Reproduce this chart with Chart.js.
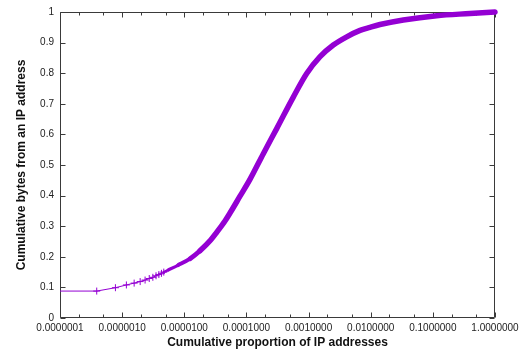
<!DOCTYPE html>
<html>
<head>
<meta charset="utf-8">
<script src="https://cdn.jsdelivr.net/npm/chart.js@4"></script>
<style>
  html, body { margin: 0; padding: 0; background: #fff; }
  #wrap { width: 520px; height: 353px; }
</style>
</head>
<body>
<div id="wrap"><canvas id="c" width="520" height="353"></canvas></div>
<script>
// Cumulative share of bytes vs cumulative share of IP addresses (sorted by traffic).
// First few addresses, drawn individually with markers.
const headX = [1e-7, 3.9e-7, 7.8e-7, 1.17e-6, 1.56e-6, 1.95e-6, 2.34e-6, 2.73e-6, 3.12e-6, 3.51e-6, 3.9e-6, 4.29e-6, 4.68e-6];
const headY = [0.088, 0.088, 0.099, 0.108, 0.114, 0.119, 0.124, 0.129, 0.133, 0.138, 0.142, 0.146, 0.150];

// Remainder of the distribution, where points are too dense to separate.
const tailX = [4.68e-6, 5.53e-6, 8.0e-6, 1.24e-5, 1.79e-5, 2.66e-5, 3.32e-5, 4.52e-5, 5.44e-5, 7.88e-5,
               1.14e-4, 1.87e-4, 3.07e-4, 5.68e-4, 9.33e-4, 1.53e-3, 2.50e-3, 4.11e-3, 6.73e-3, 9.75e-3,
               1.41e-2, 3.35e-2, 0.115, 0.396, 1.0];
const tailY = [0.150, 0.157, 0.173, 0.194, 0.220, 0.255, 0.280, 0.317, 0.343, 0.398,
               0.453, 0.537, 0.619, 0.722, 0.799, 0.854, 0.892, 0.919, 0.940, 0.950,
               0.959, 0.974, 0.988, 0.995, 1.0];

// Axis ticks
const xTickValues = [1e-7, 1e-6, 1e-5, 1e-4, 1e-3, 1e-2, 1e-1, 1];
const xTickLabels = ['0.0000001', '0.0000010', '0.0000100', '0.0001000', '0.0010000', '0.0100000', '0.1000000', '1.0000000'];
const xMinorFactors = [2, 5];
const yTickValues = [0, 0.1, 0.2, 0.3, 0.4, 0.5, 0.6, 0.7, 0.8, 0.9, 1];
const yTickLabels = ['0', '0.1', '0.2', '0.3', '0.4', '0.5', '0.6', '0.7', '0.8', '0.9', '1'];

const PURPLE = '#9400d3';
const FONT = "'Liberation Sans', Arial, Helvetica, sans-serif";

const toPoints = (xs, ys) => xs.map((x, i) => ({ x: x, y: ys[i] }));

// Frame with inward ticks on all four sides
const framePlugin = {
  id: 'frame',
  beforeDatasetsDraw(chart) {
    const { ctx, chartArea: a, scales: { x, y } } = chart;
    ctx.save();
    ctx.strokeStyle = '#3a3a3a';
    ctx.lineWidth = 1;
    const L = Math.round(a.left) + 0.5, R = Math.round(a.right) - 0.5;
    const T = Math.round(a.top) + 0.5, B = Math.round(a.bottom) - 0.5;
    ctx.beginPath();
    ctx.rect(L, T, R - L, B - T);
    const major = 5, minor = 3;
    const vtick = (px, len) => {
      const p = Math.round(px) + 0.5;
      ctx.moveTo(p, B); ctx.lineTo(p, B - len);
      ctx.moveTo(p, T); ctx.lineTo(p, T + len);
    };
    xTickValues.forEach((v, i) => {
      vtick(x.getPixelForValue(v), major);
      if (i < xTickValues.length - 1) {
        xMinorFactors.forEach(f => vtick(x.getPixelForValue(v * f), minor));
      }
    });
    yTickValues.forEach(v => {
      const p = Math.round(y.getPixelForValue(v)) + 0.5;
      ctx.moveTo(L, p); ctx.lineTo(L + major, p);
      ctx.moveTo(R, p); ctx.lineTo(R - major, p);
    });
    ctx.stroke();
    ctx.restore();
  }
};

// Stroke width of the dense part grows as the overlapping markers merge into a band
const bandWidth = ctx => {
  const px = ctx.p0.x;
  if (px < 166) return 2.5;
  if (px < 175) return 3.2;
  if (px < 183) return 4;
  if (px < 192) return 4.8;
  return 5.5;
};

new Chart(document.getElementById('c'), {
  type: 'line',
  data: {
    datasets: [
      {
        data: toPoints(headX, headY),
        borderColor: PURPLE,
        backgroundColor: PURPLE,
        borderWidth: 1,
        pointStyle: 'cross',
        pointRadius: ctx => (ctx.dataIndex === 0 ? 0 : 3.5),
        pointBorderWidth: 1,
        pointBorderColor: PURPLE,
        tension: 0,
        clip: false
      },
      {
        data: toPoints(tailX, tailY),
        borderColor: PURPLE,
        borderWidth: 5,
        pointRadius: 0,
        cubicInterpolationMode: 'monotone',
        borderCapStyle: 'round',
        segment: { borderWidth: bandWidth },
        clip: false
      }
    ]
  },
  options: {
    responsive: false,
    animation: false,
    devicePixelRatio: 1,
    layout: { padding: { top: 12, right: 25, left: 0, bottom: 0 } },
    plugins: { legend: { display: false }, tooltip: { enabled: false } },
    scales: {
      x: {
        type: 'logarithmic',
        min: 1e-7,
        max: 1,
        grid: { display: false, drawTicks: false },
        border: { display: false },
        afterBuildTicks: s => { s.ticks = xTickValues.map(v => ({ value: v, major: false })); },
        afterFit: s => { s.height = 35; s.paddingLeft = 0; s.paddingRight = 0; },
        ticks: {
          autoSkip: false,
          maxRotation: 0,
          minRotation: 0,
          padding: 4,
          color: '#222',
          font: { family: FONT, size: 10 },
          callback: (v, i) => xTickLabels[i]
        },
        title: {
          display: true,
          text: 'Cumulative proportion of IP addresses',
          color: '#111',
          font: { family: FONT, size: 12, weight: 'bold' },
          padding: { top: 0, bottom: 3 }
        }
      },
      y: {
        type: 'linear',
        min: 0,
        max: 1,
        grid: { display: false, drawTicks: false },
        border: { display: false },
        afterBuildTicks: s => { s.ticks = yTickValues.map(v => ({ value: v })); },
        afterFit: s => { s.width = 60; s.paddingTop = 0; s.paddingBottom = 0; },
        ticks: {
          autoSkip: false,
          padding: 6,
          color: '#222',
          font: { family: FONT, size: 10 },
          callback: (v, i) => yTickLabels[i]
        },
        title: {
          display: true,
          text: 'Cumulative bytes from an IP address',
          color: '#111',
          font: { family: FONT, size: 12, weight: 'bold' },
          padding: { top: 14, bottom: 0 }
        }
      }
    }
  },
  plugins: [framePlugin, {
    id: 'whiteBg',
    beforeDraw(chart) {
      const c = chart.ctx;
      c.save();
      c.fillStyle = '#fff';
      c.fillRect(0, 0, chart.width, chart.height);
      c.restore();
    }
  }]
});
</script>
</body>
</html>
